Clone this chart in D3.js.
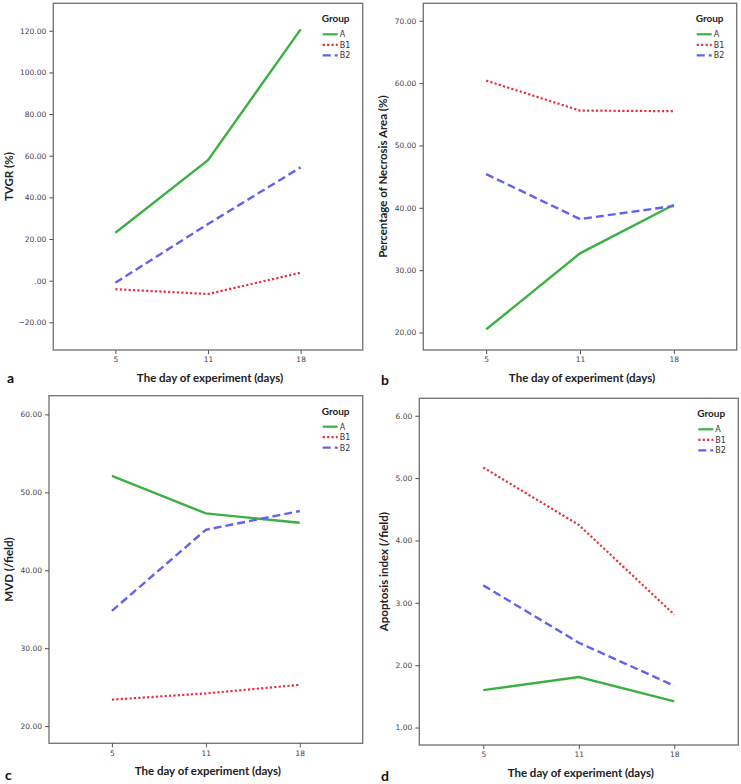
<!DOCTYPE html>
<html>
<head>
<meta charset="utf-8">
<script src="https://cdn.jsdelivr.net/npm/d3@7"></script>
<style>
  body { margin: 0; background: #fff; }
  svg { display: block; }
</style>
</head>
<body>
<div id="chart"></div>
<script>
// ---- DATA -----------------------
var days = ["5", "11", "18"];
var groups = ["A", "B1", "B2"];

// panel a: TVGR (%)
var tvgrA = [23.0, 57.9, 120.7];
var tvgrB1 = [-4.1, -6.4, 3.8];
var tvgrB2 = [-1.0, 27.2, 54.4];
var tvgrTicks = [-20, 0, 20, 40, 60, 80, 100, 120];

// panel b: necrosis area (%)
var necA = [20.5, 32.7, 40.5];
var necB1 = [60.4, 55.6, 55.5];
var necB2 = [45.4, 38.2, 40.3];
var necTicks = [20, 30, 40, 50, 60, 70];

// panel c: MVD
var mvdA = [52.1, 47.3, 46.1];
var mvdB1 = [23.4, 24.2, 25.3];
var mvdB2 = [34.8, 45.2, 47.6];
var mvdTicks = [20, 30, 40, 50, 60];

// panel d: apoptosis index
var apoA = [1.60, 1.81, 1.42];
var apoB1 = [5.17, 4.25, 2.81];
var apoB2 = [3.28, 2.36, 1.67];
var apoTicks = [1, 2, 3, 4, 5, 6];

// ---- STYLE -----------------------
var colors = { "A": "#3cb043", "B1": "#e8313f", "B2": "#6262ee" };
var dashes = { "A": null, "B1": "2.2,2.2", "B2": "8,4" };

var panels = [
  { letter: "a", title: "TVGR (%)", series: [tvgrA, tvgrB1, tvgrB2], ticks: tvgrTicks, domain: [-33.3, 133.2],
    box: { l: 53.3, r: 362.7, t: 3.3, b: 350 }, ylabX: 9, letterPos: [7, 383] },
  { letter: "b", title: "Percentage of Necrosis Area (%)", series: [necA, necB1, necB2], ticks: necTicks, domain: [17.2, 72.8],
    box: { l: 423.3, r: 736.7, t: 3.3, b: 350 }, ylabX: 383, letterPos: [381, 385] },
  { letter: "c", title: "MVD (/field)", series: [mvdA, mvdB1, mvdB2], ticks: mvdTicks, domain: [17.8, 62.4],
    box: { l: 49, r: 362.7, t: 395.7, b: 743.3 }, ylabX: 9, letterPos: [5, 780] },
  { letter: "d", title: "Apoptosis index (/field)", series: [apoA, apoB1, apoB2], ticks: apoTicks, domain: [0.72, 6.28],
    box: { l: 419.3, r: 738.3, t: 398.3, b: 745 }, ylabX: 384, letterPos: [381, 781] }
];

var svg = d3.select("#chart").append("svg")
  .attr("width", 741)
  .attr("height", 784);

panels.forEach(function (p) {
  var bx = p.box;
  var x = d3.scalePoint().domain(days).range([bx.l, bx.r]).padding(0.67);
  var y = d3.scaleLinear().domain(p.domain).range([bx.b, bx.t]);
  var g = svg.append("g");

  // frame
  g.append("rect")
    .attr("x", bx.l).attr("y", bx.t)
    .attr("width", bx.r - bx.l).attr("height", bx.b - bx.t)
    .attr("fill", "none")
    .attr("stroke", "#7a7a7a")
    .attr("stroke-width", 1.4);

  // y axis
  var yAxis = d3.axisLeft(y).tickValues(p.ticks).tickSizeOuter(0).tickSize(4)
    .tickFormat(function (d) { return d == 0 ? ".00" : d3.format(".2f")(d); });
  var ya = g.append("g").attr("transform", "translate(" + bx.l + ",0)").call(yAxis);
  ya.select(".domain").remove();

  // x axis
  var xAxis = d3.axisBottom(x).tickSize(4).tickSizeOuter(0);
  var xa = g.append("g").attr("transform", "translate(0," + bx.b + ")").call(xAxis);
  xa.select(".domain").remove();

  g.selectAll(".tick line").attr("stroke", "#555");
  g.selectAll(".tick text")
    .attr("fill", "#444")
    .style("font-family", "DejaVu Sans")
    .style("font-size", "7.5px");

  // lines
  var line = d3.line()
    .x(function (d, i) { return x(days[i]); })
    .y(function (d) { return y(d); });

  groups.forEach(function (grp, i) {
    g.append("path")
      .datum(p.series[i])
      .attr("d", line)
      .attr("fill", "none")
      .attr("stroke", colors[grp])
      .attr("stroke-width", grp == "B1" ? 2.2 : 2.4)
      .attr("stroke-dasharray", dashes[grp]);
  });

  // legend
  var lx = bx.r - 40;
  var lg = g.append("g").attr("transform", "translate(" + lx + "," + (bx.t + 19) + ")");
  lg.append("text")
    .attr("x", -1).attr("y", 0)
    .text("Group")
    .style("font-family", "Lato")
    .style("font-weight", "bold")
    .style("font-size", "10px")
    .attr("fill", "#222");
  groups.forEach(function (grp, i) {
    var ly = 12 + i * 10.5;
    lg.append("line")
      .attr("x1", 0).attr("x2", 15)
      .attr("y1", ly).attr("y2", ly)
      .attr("stroke", colors[grp])
      .attr("stroke-width", 2.2)
      .attr("stroke-dasharray", dashes[grp]);
    lg.append("text")
      .attr("x", 17).attr("y", ly + 3)
      .text(grp)
      .style("font-family", "DejaVu Sans")
      .style("font-size", "8px")
      .attr("fill", "#333");
  });

  // axis titles
  g.append("text")
    .attr("x", (bx.l + bx.r) / 2 + 2)
    .attr("y", bx.b + 32)
    .attr("text-anchor", "middle")
    .text("The day of experiment (days)")
    .style("font-family", "Lato")
    .style("font-weight", "bold")
    .style("font-size", "11.5px")
    .attr("fill", "#222");

  g.append("text")
    .attr("transform", "translate(" + (p.ylabX + 4) + "," + ((bx.t + bx.b) / 2) + ") rotate(-90)")
    .attr("text-anchor", "middle")
    .text(p.title)
    .style("font-family", "Lato")
    .style("font-weight", "bold")
    .style("font-size", "11.5px")
    .attr("fill", "#222");

  g.append("text")
    .attr("x", p.letterPos[0]).attr("y", p.letterPos[1])
    .text(p.letter)
    .style("font-family", "Lato")
    .style("font-weight", "bold")
    .style("font-size", "14px")
    .attr("fill", "#111");
});
</script>
</body>
</html>
